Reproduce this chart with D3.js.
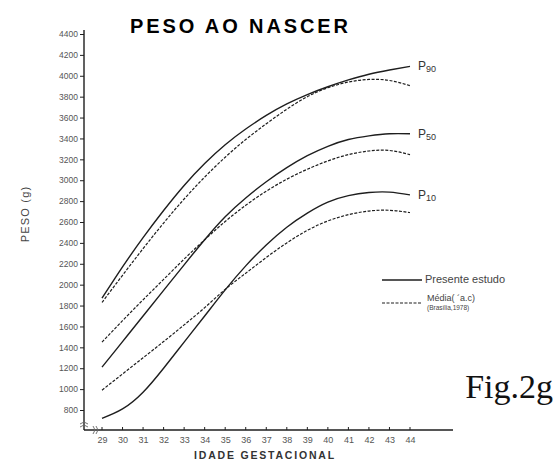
<!DOCTYPE html>
<html><head><meta charset="utf-8">
<script src="https://cdn.jsdelivr.net/npm/d3@7"></script>
<style>body{margin:0;background:#fff}svg{display:block}</style>
</head><body><svg id="c" width="558" height="464"></svg>
<script>
const weeks = [29,30,31,32,33,34,35,36,37,38,39,40,41,42,43,44];
const yTicks = [800,1000,1200,1400,1600,1800,2000,2200,2400,2600,2800,3000,3200,3400,3600,3800,4000,4200,4400];
const p90Study = [1870,2170,2450,2710,2950,3160,3340,3490,3620,3730,3820,3895,3960,4015,4055,4090];
const p90Ref   = [1830,2090,2345,2590,2820,3030,3220,3390,3540,3680,3800,3885,3940,3965,3955,3905];
const p50Study = [1210,1455,1700,1945,2190,2430,2650,2830,2985,3120,3235,3325,3390,3425,3445,3445];
const p50Ref   = [1450,1655,1855,2050,2245,2430,2605,2760,2895,3010,3105,3185,3245,3280,3285,3245];
const p10Study = [720,810,970,1200,1450,1700,1950,2180,2380,2550,2685,2790,2852,2882,2886,2860];
const p10Ref   = [990,1145,1300,1455,1615,1780,1955,2110,2260,2400,2520,2610,2670,2705,2712,2690];
const curveLabels = [{p:"P",s:"90",v:4090},{p:"P",s:"50",v:3445},{p:"P",s:"10",v:2860}];
const legendItems = ["Presente estudo","Média( ´a.c)"];
const legendSub = "(Brasília,1978)";

const svg = d3.select("#c");
const x = d3.scaleLinear().domain([29,44]).range([102,410]);
const y = d3.scaleLinear().domain([800,4400]).range([410,34]);
const ink = "#1e1e1e";
const sans = "Liberation Sans, Arial, sans-serif";

// title
svg.append("text").attr("x",239).attr("y",33).attr("text-anchor","middle")
  .attr("font-family",sans).attr("font-weight","bold")
  .attr("font-size",20).attr("textLength",218).attr("lengthAdjust","spacing").attr("fill","#000").text("PESO AO NASCER");

// axes lines
const axX = 84, axY = 430;
svg.append("line").attr("x1",axX).attr("x2",axX).attr("y1",30).attr("y2",axY).attr("stroke",ink).attr("stroke-width",1.4);
svg.append("line").attr("x1",axX).attr("x2",453).attr("y1",axY).attr("y2",axY).attr("stroke",ink).attr("stroke-width",1.4);
// axis break marks
svg.append("path").attr("d",`M${axX-4},${424} l4,-2 l4,2 M${axX-4},${427} l4,-2 l4,2`).attr("fill","none").attr("stroke","#666").attr("stroke-width",0.9);
svg.append("path").attr("d",`M${93},${axY-4} l2,4 l-2,4 M${96},${axY-4} l2,4 l-2,4`).attr("fill","none").attr("stroke","#666").attr("stroke-width",0.9);

// y axis ticks
const gy = svg.append("g").attr("transform",`translate(${axX},0)`)
  .call(d3.axisLeft(y).tickValues(yTicks).tickSize(4).tickPadding(2).tickFormat(d3.format("d")));
gy.select(".domain").remove();
gy.selectAll("line").attr("stroke",ink);
gy.selectAll("text").attr("font-family",sans).attr("font-size",8.5).attr("fill","#555");

// x axis ticks
const gx = svg.append("g").attr("transform",`translate(0,${axY})`)
  .call(d3.axisBottom(x).tickValues(weeks).tickSize(0).tickPadding(7).tickFormat(d3.format("d")));
gx.select(".domain").remove();
gx.selectAll("text").attr("font-family",sans).attr("font-size",9).attr("fill","#555");
svg.append("g").selectAll("line").data(weeks).join("line")
  .attr("x1",d=>x(d)).attr("x2",d=>x(d)).attr("y1",axY-3).attr("y2",axY).attr("stroke",ink);

// axis titles
svg.append("text").attr("transform","translate(29,214) rotate(-90)").attr("text-anchor","middle")
  .attr("font-family",sans).attr("font-size",11).attr("fill","#444")
  .attr("letter-spacing",1.2).text("PESO  (g)");
svg.append("text").attr("x",265).attr("y",459).attr("text-anchor","middle")
  .attr("font-family",sans).attr("font-weight","bold").attr("font-size",10.5)
  .attr("fill","#333").attr("letter-spacing",1.8).text("IDADE  GESTACIONAL");

// curves
const line = d3.line().x((d,i)=>x(weeks[i])).y(d=>y(d)).curve(d3.curveNatural);
[[p90Study,false],[p90Ref,true],[p50Study,false],[p50Ref,true],[p10Study,false],[p10Ref,true]].forEach(([s,dash])=>{
  svg.append("path").attr("d",line(s)).attr("fill","none").attr("stroke",ink)
    .attr("stroke-width",dash?1.2:1.4).attr("stroke-dasharray",dash?"3,1.5":null);
});

// curve labels
curveLabels.forEach(c=>{
  const t = svg.append("text").attr("x",418).attr("y",y(c.v)+4)
    .attr("font-family",sans).attr("font-size",12).attr("fill","#333");
  t.append("tspan").text(c.p);
  t.append("tspan").attr("font-size",9).attr("dy",2).text(c.s);
});

// legend
const lg = svg.append("g").attr("font-family",sans).attr("fill","#444");
lg.append("line").attr("x1",382).attr("x2",422).attr("y1",280).attr("y2",280).attr("stroke",ink).attr("stroke-width",1.3);
lg.append("text").attr("x",425).attr("y",283).attr("font-size",11).text(legendItems[0]);
lg.append("line").attr("x1",382).attr("x2",422).attr("y1",303).attr("y2",303).attr("stroke",ink).attr("stroke-width",1.2).attr("stroke-dasharray","3,1.5");
lg.append("text").attr("x",427).attr("y",301).attr("font-size",9).text(legendItems[1]);
lg.append("text").attr("x",427).attr("y",310).attr("font-size",6.5).text(legendSub);

// figure label
svg.append("text").attr("x",553).attr("y",398).attr("text-anchor","end")
  .attr("font-family","Liberation Serif, Times New Roman, serif").attr("font-size",34).attr("fill","#111").text("Fig.2g");
</script></body></html>
